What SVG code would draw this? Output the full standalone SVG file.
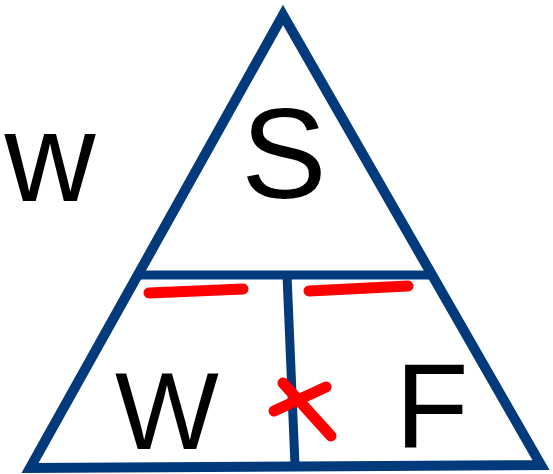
<svg xmlns="http://www.w3.org/2000/svg" width="553" height="474" viewBox="0 0 553 474">
<style>
.frame{fill:none;stroke:#023a7c;stroke-width:10;stroke-linejoin:miter}
.div{stroke:#023a7c;stroke-width:9;fill:none}
.mark{stroke:#ff0000;stroke-width:11;stroke-linecap:round;fill:none}
text{font-family:"Liberation Sans",Arial,sans-serif;fill:#000;text-anchor:middle}
</style>
<rect width="553" height="474" fill="#fff"/>
<g id="triangle">
<polygon class="frame" points="283,15 541,465 30,468"/>
</g>
<g id="dividers">
<line class="div" x1="138" y1="275" x2="432" y2="275"/>
<line class="div" x1="287" y1="275" x2="295" y2="465" stroke-width="8"/>
</g>
<g id="node-S"><text x="284" y="198" font-size="128">S</text></g>
<g id="node-W"><text x="167" y="449" font-size="110">W</text></g>
<g id="node-F"><text x="432" y="448" font-size="120">F</text></g>
<g id="label-w"><text x="50" y="201" font-size="126">w</text></g>
<g id="marks">
<line class="mark" x1="149" y1="293" x2="243" y2="289"/>
<line class="mark" x1="309" y1="291" x2="408" y2="286"/>
<line class="mark" x1="283" y1="383" x2="331" y2="436"/>
<line class="mark" x1="274" y1="411" x2="326" y2="387"/>
</g>
</svg>
